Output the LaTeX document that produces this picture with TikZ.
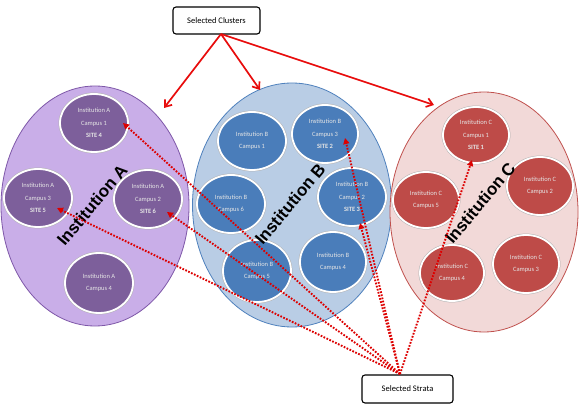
\documentclass[tikz,border=0pt]{standalone}
\usepackage{fontspec}
\setmainfont{Carlito}
\newfontfamily\labfont{Liberation Sans}
\usetikzlibrary{shapes.geometric,arrows.meta}
\definecolor{afill}{HTML}{C9AEE8}
\definecolor{aline}{HTML}{7E57A8}
\definecolor{acirc}{HTML}{7D5F9B}
\definecolor{bfill}{HTML}{B9CDE5}
\definecolor{bline}{HTML}{4F81BD}
\definecolor{bcirc}{HTML}{4A7DBA}
\definecolor{cfill}{HTML}{F2D9D8}
\definecolor{cline}{HTML}{C0504D}
\definecolor{ccirc}{HTML}{BE4B48}
\definecolor{arrowred}{HTML}{E80C0C}
\definecolor{dotred}{HTML}{DD0000}
\begin{document}
\begin{tikzpicture}[x=1pt,y=-1pt,
  cluster/.style={ellipse, draw, line width=0.8pt, inner sep=0pt},
  campus/.style={ellipse, draw=white, line width=1.8pt, inner sep=0pt,
    text=white!90!black, align=center, font=\fontsize{6.5}{12.5}\selectfont,
    minimum width=68pt, minimum height=58pt,
    preaction={draw=black!30, line width=2.8pt}},
  instlabel/.style={font=\labfont\bfseries\fontsize{17}{17}\selectfont, rotate=50, inner sep=0pt},
  selbox/.style={draw, rounded corners=3pt, line width=1.1pt, fill=white,
    font=\fontsize{8.5}{8.5}\selectfont, inner sep=0pt},
  solidarrow/.style={draw=arrowred, line width=1.7pt, -{Straight Barb[length=6pt,width=9pt]}},
  dotarrow/.style={draw=dotred, line width=1.9pt, dash pattern=on 1.7pt off 1.5pt, -{Triangle[length=6pt,width=6pt]}}]
\useasboundingbox (0,0) rectangle (580,411);
\fill[white] (0,0) rectangle (580,411);

% clusters
\node[cluster, draw=aline, fill=afill, minimum width=188pt, minimum height=240pt] (A) at (95,206) {};
\node[cluster, draw=bline, fill=bfill, minimum width=199pt, minimum height=244pt] (B) at (292,205) {};
\node[cluster, draw=cline, fill=cfill, minimum width=188pt, minimum height=240pt] (C) at (484,212) {};

% institution A campuses
\node[campus, fill=acirc] (A1) at (94,123) {Institution A\\Campus 1\\\textbf{SITE 4}};
\node[campus, fill=acirc] (A3) at (38,198) {Institution A\\Campus 3\\\textbf{SITE 5}};
\node[campus, fill=acirc] (A2) at (148,199) {Institution A\\Campus 2\\\textbf{SITE 6}};
\node[campus, fill=acirc, minimum height=60pt] (A4) at (99,283) {Institution A\\Campus 4};

% institution B campuses
\node[campus, fill=bcirc] (B1) at (252,141) {Institution B\\Campus 1};
\node[campus, fill=bcirc, minimum width=66pt] (B3) at (325,134) {Institution B\\Campus 3\\\textbf{SITE 2}};
\node[campus, fill=bcirc] (B6) at (231,204) {Institution B\\Campus 6};
\node[campus, fill=bcirc] (B2) at (352,197) {Institution B\\Campus 2\\\textbf{SITE 3}};
\node[campus, fill=bcirc, minimum height=62pt] (B5) at (257,271) {Institution B\\Campus 5};
\node[campus, fill=bcirc, minimum width=66pt, minimum height=60pt] (B4) at (333,262) {Institution B\\Campus 4};

% institution C campuses
\node[campus, fill=ccirc, minimum width=66pt, minimum height=56pt] (C1) at (476,135) {Institution C\\Campus 1\\\textbf{SITE 1}};
\node[campus, fill=ccirc, minimum width=66pt] (C2) at (540,186) {Institution C\\Campus 2};
\node[campus, fill=ccirc, minimum width=66pt, minimum height=56pt] (C5) at (426,200) {Institution C\\Campus 5};
\node[campus, fill=ccirc, minimum width=64pt, minimum height=56pt] (C4) at (452,273) {Institution C\\Campus 4};
\node[campus, fill=ccirc, minimum width=66pt] (C3) at (526,264) {Institution C\\Campus 3};

% labels
\node[instlabel] (LA) at (92,205) {Institution A};
\node[instlabel] (LB) at (290,204) {Institution B};
\node[instlabel] (LC) at (480,203) {Institution C};

% boxes
\node[selbox, minimum width=87pt, minimum height=27pt] (clusters) at (216.5,20.5) {Selected Clusters};
\node[selbox, minimum width=91pt, minimum height=28pt] (strata) at (407.5,389) {Selected Strata};

% coordinates
\coordinate (cl) at (221,34);
\coordinate (tA) at (164,108);
\coordinate (tB) at (260,90);
\coordinate (tC) at (434,105);
\coordinate (hub) at (400,374);
\coordinate (dA1) at (123,123);
\coordinate (dA2) at (167,212);
\coordinate (dA3) at (57,208);
\coordinate (dB3) at (345,138);
\coordinate (dB2) at (360,223);
\coordinate (dC1) at (472,160);

% solid arrows
\draw[solidarrow] (cl) -- (tA);
\draw[solidarrow] (cl) -- (tB);
\draw[solidarrow] (cl) -- (tC);

% dotted arrows
\draw[dotarrow] (hub) -- (dA1);
\draw[dotarrow] (hub) -- (dA2);
\draw[dotarrow] (hub) -- (dA3);
\draw[dotarrow] (hub) -- (dB3);
\draw[dotarrow] (hub) -- (dB2);
\draw[dotarrow] (hub) -- (dC1);
\end{tikzpicture}
\end{document}
